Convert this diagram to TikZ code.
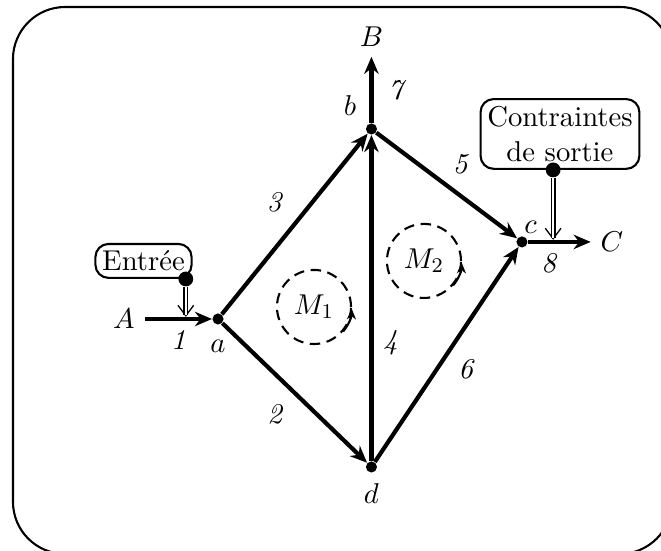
\documentclass[tikz,border=0pt,11pt]{standalone}
\usepackage{amsmath}
\usepackage{xcolor}
\usepackage{tikz}
\usetikzlibrary{arrows.meta,positioning}

\begin{document}
\begin{tikzpicture}[
    vertex/.style={circle, fill, inner sep=1.5pt},
    flow/.style={-{Stealth[length=6.5pt,width=5.5pt]}, line width=1.6pt},
    info/.style={rectangle, draw, line width=0.8pt, rounded corners=5pt, inner sep=2.6pt, align=center},
    plug/.style={circle, fill, inner sep=2pt},
    feed/.style={double, double distance=1pt, thin},
    feedtip/.style={line width=0.5pt, -{Straight Barb[length=4pt,width=6pt]}},
    mesh/.style={circle, draw, line width=0.8pt, dash pattern=on 4pt off 2.5pt, minimum size=0.994cm, inner sep=0pt},
    turn/.style={-{Stealth[length=4pt,width=3.5pt]}, line width=0.8pt}
]
\useasboundingbox (0,0) rectangle (8.871,7.394);
\begin{scope}
\clip (0,0) rectangle (8.871,7.394);
\draw[line width=0.8pt, rounded corners=0.7cm] (0.174,-0.04) rectangle (9.018,7.300);
\end{scope}

% sommets
\node[vertex, label={[label distance=2pt]below:$a$}] (a) at (2.926,3.113) {};
\node[vertex, label={150:$b$}] (b) at (4.985,5.663) {};
\node[vertex, label={[label distance=-3pt, xshift=-2.5pt]55:$c$}] (c) at (7.005,4.147) {};
\node[vertex, label={below:$d$}] (d) at (4.985,1.127) {};

\node (A) at (1.664,3.113) {$A$};
\node (B) at (4.985,6.898) {$B$};
\node (C) at (8.213,4.147) {$C$};

% mailles
\node[mesh] (m1) at (4.214,3.274) {$M_1$};
\node[mesh] (m2) at (5.690,3.892) {$M_2$};
\draw[turn] (m1.-40) arc[start angle=-40, end angle=-2, radius=0.497cm];
\draw[turn] (m2.-40) arc[start angle=-40, end angle=-2, radius=0.497cm];

% branches
\draw[flow] (A) -- node[below] {\textit{1}} (a);
\draw[flow] (a) -- node[below left] {\textit{2}} (d);
\draw[flow] (a) -- node[above left] {\textit{3}} (b);
\draw[flow] (d) -- node[pos=0.364, right] {\textit{4}} (b);
\draw[flow] (b) -- node[pos=0.48, above right=-1.5pt] {\textit{5}} (c);
\draw[flow] (d) -- node[pos=0.52, below right=-1.5pt] {\textit{6}} (c);
\draw[flow] (b) -- node[right=2pt] {\textit{7}} (B);
\draw[flow] (c) -- node[pos=0.34, below] {\textit{8}} (C);

% entree et contraintes
\node[info] (in) at (1.926,3.892) {Entrée};
\node[plug, xshift=-2.6pt] (inp) at (in.south east) {};
\coordinate (inq) at (inp |- a);
\draw[feedtip, shorten >=0.8pt] (inp) -- (inq);
\draw[feed, shorten >=1.5pt] (inp) -- (inq);

\node[info] (out) at (7.515,5.596) {Contraintes\\de sortie};
\node[plug, xshift=-2.6pt] (outp) at (out.south) {};
\coordinate (outq) at (outp |- c);
\draw[feedtip, shorten >=0.8pt] (outp) -- (outq);
\draw[feed, shorten >=1.5pt] (outp) -- (outq);
\end{tikzpicture}
\end{document}
